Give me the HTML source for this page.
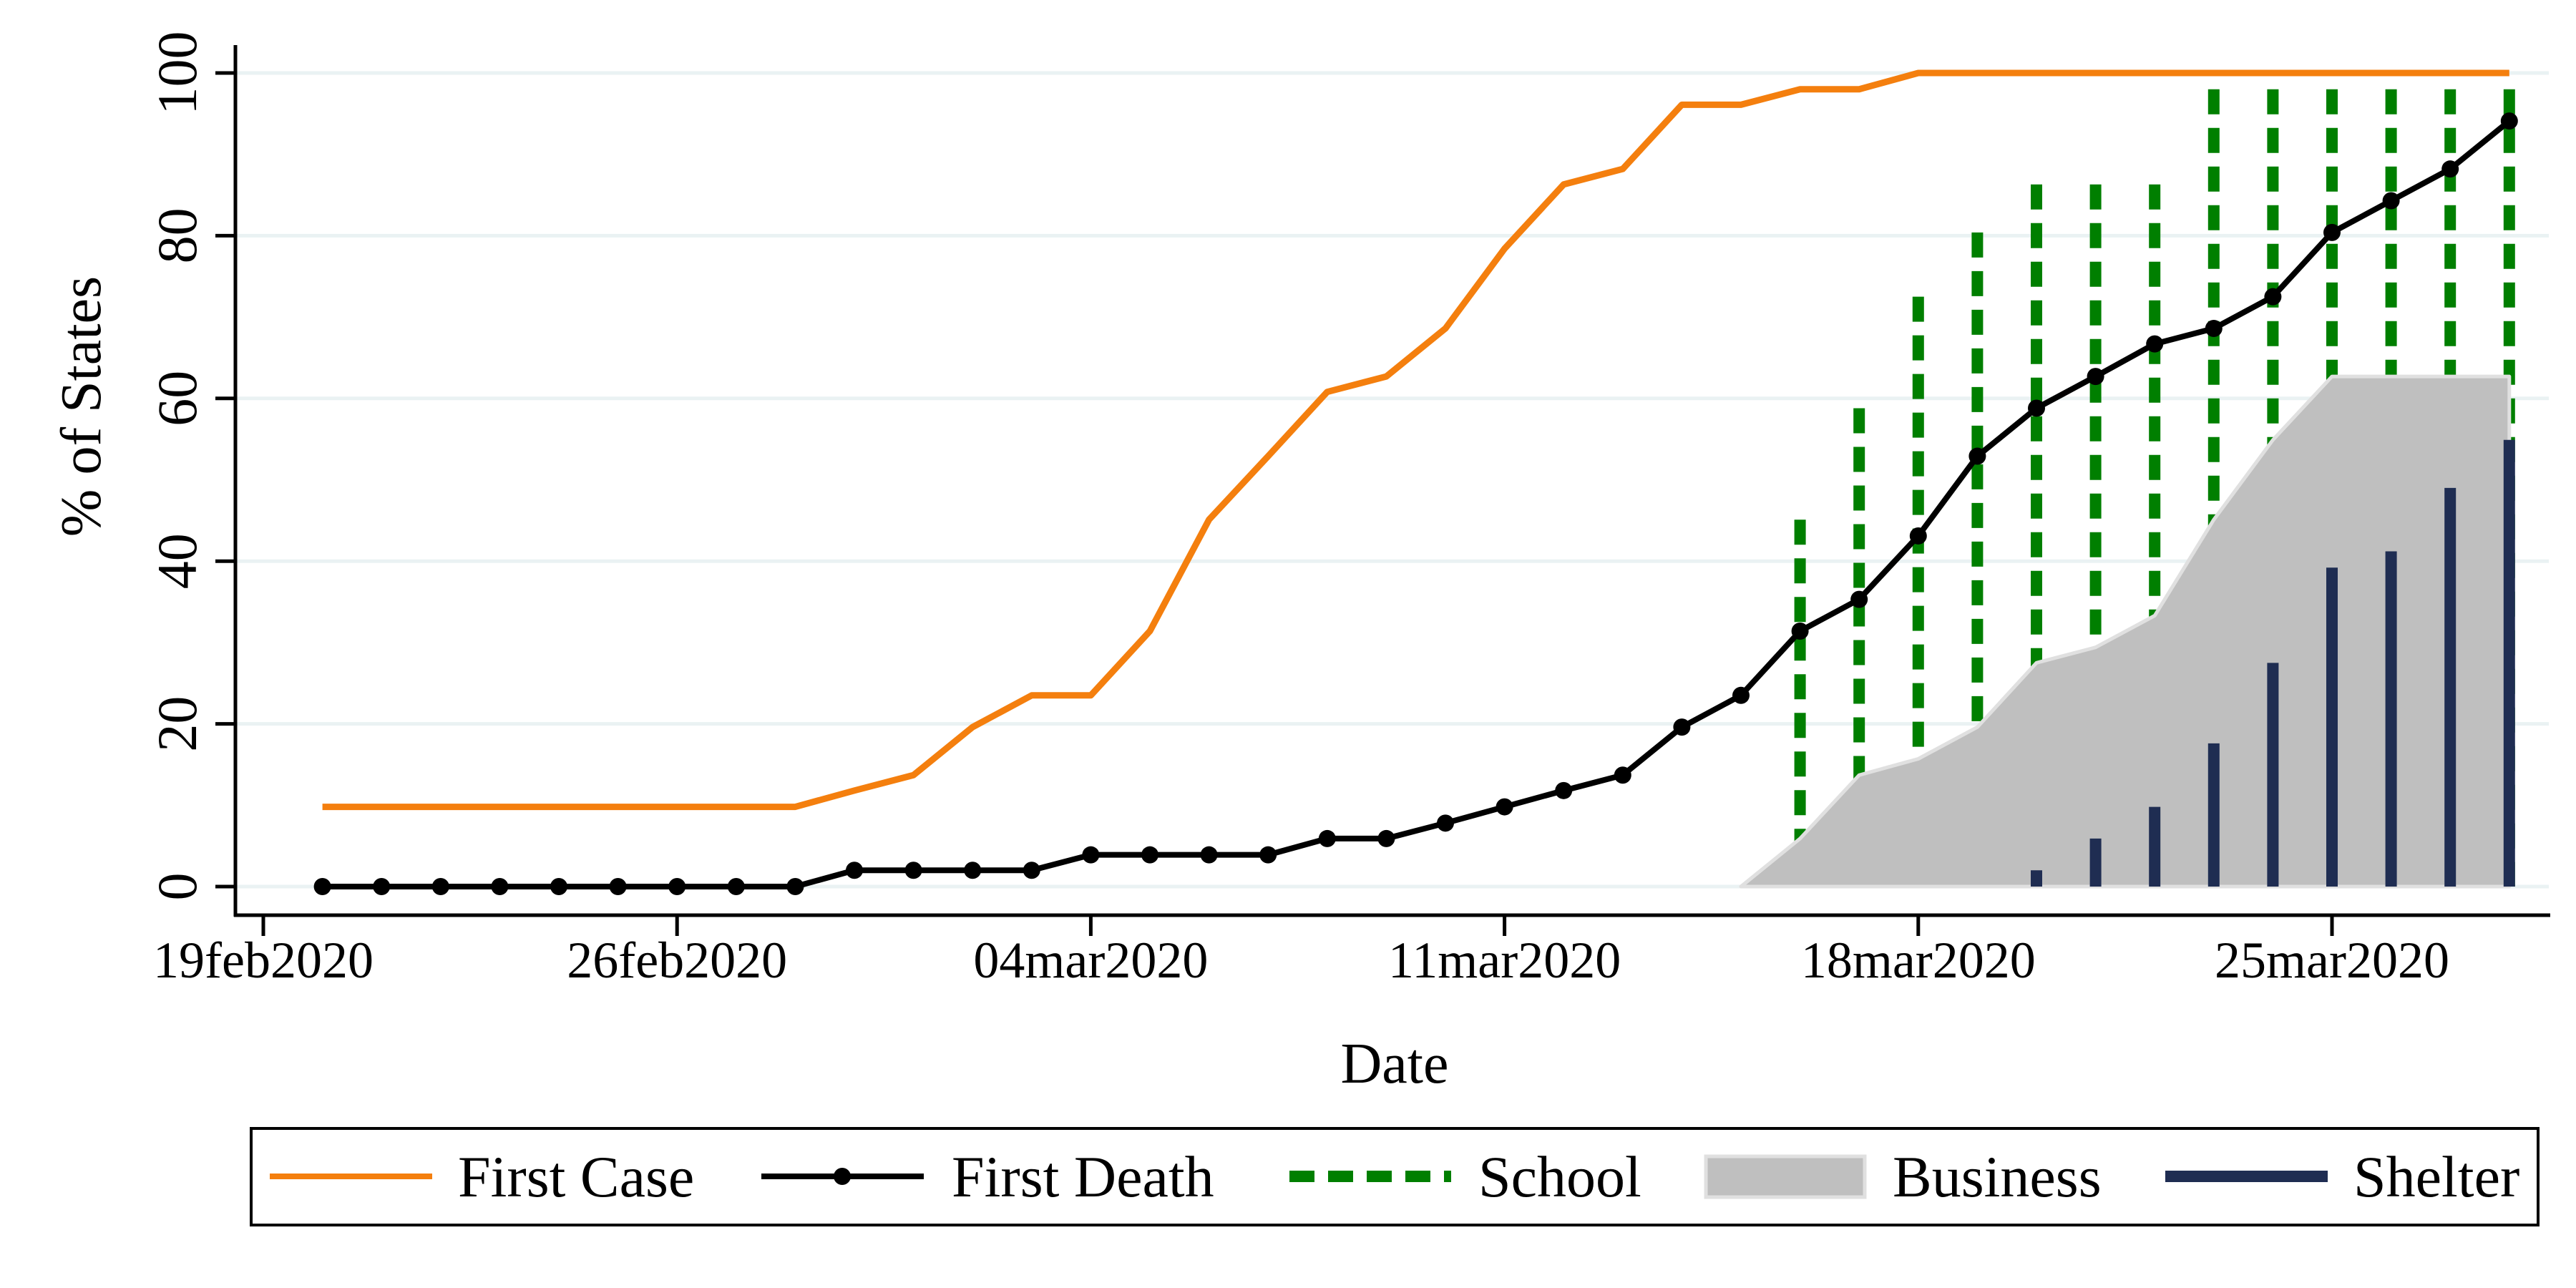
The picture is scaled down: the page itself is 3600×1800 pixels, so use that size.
<!DOCTYPE html>
<html><head><meta charset="utf-8"><style>
html,body{margin:0;padding:0;background:#fff;width:3600px;height:1800px;overflow:hidden}
svg{display:block;font-family:"Liberation Serif",serif}
</style></head><body>
<svg id="chart" width="3600" height="1800" viewBox="0 0 3600 1800" xmlns="http://www.w3.org/2000/svg">
<g id="grid"></g>
<g id="school"></g>
<g id="business"></g>
<g id="shelter"></g>
<g id="cases"></g>
<g id="deaths"></g>
<g id="axes"></g>
<text x="0" y="0" font-size="80" text-anchor="middle" transform="translate(140,568) rotate(-90)">% of States</text>
<text x="1949" y="1513" font-size="80" text-anchor="middle">Date</text>
<g>
<rect x="351" y="1577" width="3196" height="135" fill="#fff" stroke="#000" stroke-width="4"/>
<g>
<line x1="377" y1="1644" x2="604" y2="1644" stroke="#f47f0e" stroke-width="8"/>
<text x="640" y="1672" font-size="82">First Case</text></g>
<g>
<line x1="1064" y1="1644" x2="1291" y2="1644" stroke="#000" stroke-width="8"/>
<circle cx="1177" cy="1644" r="12" fill="#000"/>
<text x="1330" y="1672" font-size="82">First Death</text></g>
<g>
<line x1="1802" y1="1644" x2="2028" y2="1644" stroke="#007f00" stroke-width="16" stroke-dasharray="35 19"/>
<text x="2066" y="1672" font-size="82">School</text></g>
<g>
<rect x="2384" y="1616" width="222" height="57" fill="#bfbfbf" stroke="#e0e0e0" stroke-width="5"/>
<text x="2645" y="1672" font-size="82">Business</text></g>
<g>
<line x1="3026" y1="1644" x2="3253" y2="1644" stroke="#1f2d52" stroke-width="16"/>
<text x="3289" y="1672" font-size="82">Shelter</text></g>
</g>
</svg>
<script>
// days counted from 19feb2020 (day 0)
const caseDays = [1,2,3,4,5,6,7,8,9,10,11,12,13,14,15,16,17,18,19,20,21,22,23,24,25,26,27,28,29,30,31,32,33,34,35,36,37,38];
const firstCase = [9.8,9.8,9.8,9.8,9.8,9.8,9.8,9.8,9.8,11.8,13.7,19.6,23.5,23.5,31.4,45.1,52.9,60.8,62.7,68.6,78.4,86.3,88.2,96.1,96.1,98.0,98.0,100,100,100,100,100,100,100,100,100,100,100];
const firstDeath = [0,0,0,0,0,0,0,0,0,2.0,2.0,2.0,2.0,3.9,3.9,3.9,3.9,5.9,5.9,7.8,9.8,11.8,13.7,19.6,23.5,31.4,35.3,43.1,52.9,58.8,62.7,66.7,68.6,72.5,80.4,84.3,88.2,94.1];
const schoolDays = [26,27,28,29,30,31,32,33,34,35,36,37,38];
const school = [45.1,58.8,72.5,80.4,86.3,86.3,86.3,98.0,98.0,98.0,98.0,98.0,98.0];
const businessDays = [25,26,27,28,29,30,31,32,33,34,35,36,37,38];
const business = [0,5.9,13.7,15.7,19.6,27.5,29.4,33.3,45.1,54.9,62.7,62.7,62.7,62.7];
const shelterDays = [30,31,32,33,34,35,36,37,38];
const shelter = [2.0,5.9,9.8,17.6,27.5,39.2,41.2,49.0,54.9];
const yTicks = [0,20,40,60,80,100];
const xTickDays = [0,7,14,21,28,35];
const xTickLabels = ["19feb2020","26feb2020","04mar2020","11mar2020","18mar2020","25mar2020"];

const NS="http://www.w3.org/2000/svg";
const X0=368, DX=82.6, Y0=1239, Y100=102;
const AXY=1279;
const xs=d=>X0+d*DX;
const ys=v=>Y0+(Y100-Y0)*v/100;
function mk(tag,parent,attrs){const e=document.createElementNS(NS,tag);for(const k in attrs)e.setAttribute(k,attrs[k]);parent.appendChild(e);return e;}
const g=id=>document.getElementById(id);

yTicks.forEach(t=>{
  const l=mk('line',g('grid'),{x1:330,x2:3562,y1:ys(t),y2:ys(t),stroke:'#eaf2f3','stroke-width':5});
  
  
});
schoolDays.forEach((d,i)=>{
  const l=mk('line',g('school'),{x1:xs(d),x2:xs(d),y1:ys(school[i]),y2:ys(0),stroke:'#007f00','stroke-width':16,'stroke-dasharray':'35 19'});
  
  
});
let p='M'+xs(businessDays[0])+' '+ys(0);
businessDays.forEach((d,i)=>{p+=' L'+xs(d)+' '+ys(business[i]);});
p+=' L'+xs(businessDays[businessDays.length-1])+' '+ys(0)+' Z';
const area=mk('path',g('business'),{d:p,fill:'#bfbfbf',stroke:'#e0e0e0','stroke-width':5,'stroke-linejoin':'round'});


shelterDays.forEach((d,i)=>{
  const l=mk('line',g('shelter'),{x1:xs(d),x2:xs(d),y1:ys(shelter[i]),y2:ys(0),stroke:'#1f2d52','stroke-width':16});
  
  
});
const cl=mk('polyline',g('cases'),{points:caseDays.map((d,i)=>xs(d)+','+ys(firstCase[i])).join(' '),fill:'none',stroke:'#f47f0e','stroke-width':9,'stroke-linejoin':'round'});


const dl=mk('polyline',g('deaths'),{points:caseDays.map((d,i)=>xs(d)+','+ys(firstDeath[i])).join(' '),fill:'none',stroke:'#000','stroke-width':8,'stroke-linejoin':'round'});


caseDays.forEach((d,i)=>{
  const c=mk('circle',g('deaths'),{cx:xs(d),cy:ys(firstDeath[i]),r:12,fill:'#000'});
  
  
});
const ax=g('axes');
const ya=mk('line',ax,{x1:329,x2:329,y1:63,y2:AXY+2,stroke:'#000','stroke-width':5});


const xa=mk('line',ax,{x1:327,x2:3564,y1:AXY,y2:AXY,stroke:'#000','stroke-width':5});


yTicks.forEach(t=>{
  const tk=mk('line',ax,{x1:301,x2:329,y1:ys(t),y2:ys(t),stroke:'#000','stroke-width':5});
  
  
  const tx=mk('text',ax,{x:0,y:0,'font-size':78,'text-anchor':'middle',transform:'translate(274,'+ys(t)+') rotate(-90)'});
  tx.textContent=t;
  
  
});
xTickDays.forEach((d,i)=>{
  const tk=mk('line',ax,{x1:xs(d),x2:xs(d),y1:AXY,y2:AXY+29,stroke:'#000','stroke-width':5});
  
  
  const tx=mk('text',ax,{x:xs(d),y:1366,'font-size':72,'text-anchor':'middle'});
  tx.textContent=xTickLabels[i];
  
  
});
</script>
</body></html>
